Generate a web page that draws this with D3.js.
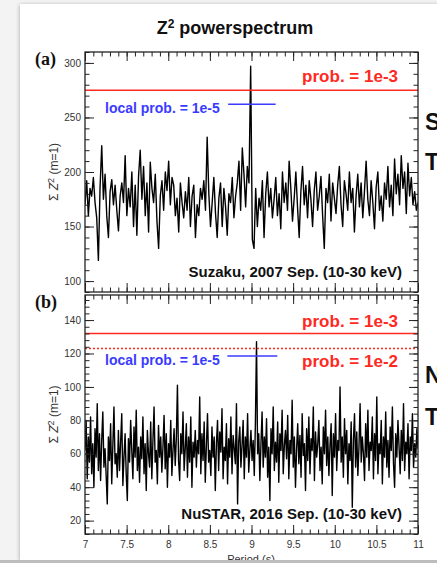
<!DOCTYPE html>
<html>
<head>
<meta charset="utf-8">
<script src="https://cdn.jsdelivr.net/npm/d3@7"></script>
<style>
  body { margin: 0; background: #f3f3f3; }
  svg { display: block; font-family: "Liberation Sans", Arial, sans-serif; }
</style>
</head>
<body>
<svg id="chart"></svg>
<script>
var svgWidth = 437;
var svgHeight = 563;

// Suzaku 2007 Z^2 values (panel a), evenly spaced in period from 7 to 11 s
var suzakuZ2 = [
  170, 192, 160, 185, 178, 195, 172, 158, 119, 186,
  224, 175, 198, 160, 140, 182, 193, 170, 188, 165,
  146, 178, 190, 172, 215, 160, 185, 168, 200, 150,
  188, 142, 196, 220, 175, 205, 160, 190, 145, 209,
  185, 172, 198, 155, 130, 178, 192, 165, 200, 183,
  210, 170, 195, 188, 160, 176, 145, 190, 172, 158,
  182, 165, 195, 150, 178, 188, 140, 170, 160, 185,
  175, 192, 165, 232, 180, 150, 172, 195, 162, 140,
  176, 190, 150, 185, 168, 142, 180, 172, 195, 158,
  178, 190, 210, 165, 222, 198, 168, 205, 190, 297,
  138, 130, 185, 150, 176, 165, 192, 140, 180, 200,
  168, 185, 158, 175, 195, 160, 180, 148, 200, 172,
  190, 165, 210, 185, 155, 176, 200, 168, 140, 182,
  205, 170, 188, 158, 192, 175, 150, 183, 200, 165,
  178, 196, 160, 130, 185, 172, 198, 155, 190, 176,
  162, 188, 205, 170, 150, 192, 180, 165, 200, 172,
  185, 145, 178, 198, 168, 190, 158, 182, 210, 175,
  160, 192, 172, 148, 186, 200, 165, 178, 155, 190,
  175, 205, 168, 188, 160, 212, 180, 198, 170, 215,
  185, 200, 162, 208, 178, 195, 170, 182, 165, 172
];

// NuSTAR 2016 Z^2 values (panel b), evenly spaced in period from 7 to 11 s
var nustarZ2 = [
  62, 80, 45, 70, 55, 82, 48, 66, 40, 75,
  58, 90, 50, 72, 44, 68, 85, 52, 63, 47,
  30, 70, 56, 78, 42, 65, 88, 54, 60, 46,
  74, 50, 67, 84, 41, 58, 72, 48, 32, 69,
  55, 80, 62, 45, 76, 58, 86, 50, 64, 43,
  70, 57, 82, 48, 66, 38, 74, 60, 52, 79,
  45, 68, 88, 55, 62, 42, 77, 58, 70, 49,
  64, 83, 51, 72, 40, 66, 58, 80, 47, 62,
  75, 53, 69, 101, 56, 44, 72, 60, 85, 50,
  63, 78, 46, 70, 55, 82, 40, 67, 58, 74,
  52, 68, 60, 94, 48, 72, 56, 79, 43, 65,
  84, 55, 62, 47, 76, 58, 70, 38, 66, 80,
  50, 73, 61, 87, 45, 64, 56, 78, 42, 69,
  58, 82, 48, 71, 63, 54, 90, 30, 67, 76,
  52, 65, 80, 45, 70, 58, 84, 49, 62, 74,
  56, 68, 47, 78, 127, 60, 72, 44, 66, 85,
  52, 70, 58, 81, 46, 64, 32, 75, 60, 88,
  50, 67, 55, 79, 43, 72, 62, 86, 48, 65,
  74, 57, 83, 45, 68, 60, 92, 52, 70, 40,
  63, 78, 54, 71, 46, 84, 59, 66, 38, 75,
  56, 82, 48, 69, 62, 88, 44, 73, 58, 66,
  80, 50, 64, 42, 76, 60, 86, 53, 70, 47,
  65, 78, 35, 72, 58, 84, 50, 68, 62, 100,
  55, 70, 46, 81, 60, 74, 42, 66, 56, 79,
  28, 68, 84, 52, 73, 47, 64, 90, 55, 70,
  60, 44, 78, 58, 86, 50, 67, 62, 82, 45,
  72, 56, 94, 48, 66, 60, 80, 42, 70, 58,
  85, 52, 68, 46, 76, 62, 88, 54, 40, 72,
  58, 80, 64, 48, 74, 56, 90, 50, 67, 60,
  78, 45, 70, 62, 84, 52, 66, 58, 75, 63
];

var periodStart = 7;
var periodEnd = 11;
var xTicks = [7, 7.5, 8, 8.5, 9, 9.5, 10, 10.5, 11];

// probability levels
var probA = [{ label: "prob. = 1e-3", value: 275, dash: null }];
var probB = [
  { label: "prob. = 1e-3", value: 132, dash: null },
  { label: "prob. = 1e-2", value: 123, dash: "2,2" }
];
var localA = { label: "local prob. = 1e-5", value: 262, from: 8.72, to: 9.29 };
var localB = { label: "local prob. = 1e-5", value: 118.5, from: 8.71, to: 9.31 };

var svg = d3.select("#chart")
  .attr("width", svgWidth)
  .attr("height", svgHeight);

var defs = svg.append("defs");
var shadow = defs.append("filter").attr("id", "shadow")
  .attr("x", "-5%").attr("y", "-5%").attr("width", "110%").attr("height", "110%");
shadow.append("feDropShadow")
  .attr("dx", 0).attr("dy", 1).attr("stdDeviation", 2)
  .attr("flood-color", "#000").attr("flood-opacity", 0.35);

svg.append("rect")
  .attr("width", svgWidth).attr("height", svgHeight)
  .attr("fill", "#f3f3f3");

// slide card
svg.append("rect")
  .attr("x", 20).attr("y", 4)
  .attr("width", 440).attr("height", 556)
  .attr("fill", "#fff")
  .attr("filter", "url(#shadow)");

var x = d3.scaleLinear().domain([periodStart, periodEnd]).range([85, 418]);

function periodsFor(values) {
  var n = values.length;
  return values.map((v, i) => ({
    period: periodStart + i * (periodEnd - periodStart) / (n - 1),
    z2: v
  }));
}

function drawPanel(cfg) {
  var y = d3.scaleLinear().domain(cfg.yDomain).range([cfg.bottom, cfg.top]);
  var g = svg.append("g");

  var clipId = "clip" + cfg.name;
  defs.append("clipPath").attr("id", clipId)
    .append("rect")
    .attr("x", x.range()[0]).attr("y", cfg.top)
    .attr("width", x.range()[1] - x.range()[0])
    .attr("height", cfg.bottom - cfg.top);

  // data line
  var line = d3.line()
    .x(d => x(d.period))
    .y(d => y(d.z2));

  g.append("path")
    .datum(periodsFor(cfg.values))
    .attr("clip-path", `url(#${clipId})`)
    .attr("fill", "none")
    .attr("stroke", "#000")
    .attr("stroke-width", 1.4)
    .attr("stroke-linejoin", "round")
    .attr("d", line);

  // probability lines
  cfg.probs.forEach(function (p) {
    g.append("line")
      .attr("x1", x(periodStart)).attr("x2", x(periodEnd))
      .attr("y1", y(p.value)).attr("y2", y(p.value))
      .attr("stroke", "#ff2a1f")
      .attr("stroke-width", 1.5)
      .attr("stroke-dasharray", p.dash);
  });

  g.append("line")
    .attr("x1", x(cfg.local.from)).attr("x2", x(cfg.local.to))
    .attr("y1", y(cfg.local.value)).attr("y2", y(cfg.local.value))
    .attr("stroke", "#3b3bff")
    .attr("stroke-width", 1.5);

  // minor ticks
  var mk = (axis, ticks, size) => axis.tickValues(ticks).tickSizeInner(size).tickSizeOuter(0).tickFormat("");
  var xMinor = d3.range(70, 111).map(d => d / 10);
  var yMinor = d3.range(cfg.yDomain[0], cfg.yDomain[1] + 0.01, 1).filter(d => d % cfg.minorStep === 0);

  g.append("g").attr("transform", `translate(0,${cfg.top})`).call(mk(d3.axisTop(x), xMinor, -4.5));
  g.append("g").attr("transform", `translate(0,${cfg.bottom})`).call(mk(d3.axisBottom(x), xMinor, -4.5));
  g.append("g").attr("transform", `translate(${x.range()[0]},0)`).call(mk(d3.axisLeft(y), yMinor, -4.5));
  g.append("g").attr("transform", `translate(${x.range()[1]},0)`).call(mk(d3.axisRight(y), yMinor, -4.5));

  // major ticks
  g.append("g").attr("transform", `translate(0,${cfg.top})`).call(mk(d3.axisTop(x), xTicks, -9));
  g.append("g").attr("transform", `translate(${x.range()[1]},0)`).call(mk(d3.axisRight(y), cfg.yTicks, -9));

  var bottomAxis = d3.axisBottom(x).tickValues(xTicks).tickSizeInner(-9).tickSizeOuter(0)
    .tickPadding(7).tickFormat(d3.format("~"));
  if (!cfg.xLabels) bottomAxis.tickFormat("");
  g.append("g").attr("class", "tick-labels")
    .attr("transform", `translate(0,${cfg.bottom})`)
    .call(bottomAxis);

  g.append("g").attr("class", "tick-labels")
    .attr("transform", `translate(${x.range()[0]},0)`)
    .call(d3.axisLeft(y).tickValues(cfg.yTicks).tickSizeInner(-9).tickSizeOuter(0).tickPadding(4));

  g.selectAll(".domain").remove();
  g.selectAll(".tick line").attr("stroke", "#222").attr("stroke-width", 1);
  g.selectAll(".tick-labels text")
    .attr("fill", "#333")
    .style("font-size", "10px")
    .style("font-family", "Liberation Sans, Arial, sans-serif");

  // frame
  g.append("rect")
    .attr("x", x.range()[0]).attr("y", cfg.top)
    .attr("width", x.range()[1] - x.range()[0])
    .attr("height", cfg.bottom - cfg.top)
    .attr("fill", "none")
    .attr("stroke", "#222")
    .attr("stroke-width", 1.3);

  // annotations
  cfg.probs.forEach(function (p, i) {
    g.append("text")
      .attr("x", 398)
      .attr("y", cfg.probLabelY[i])
      .attr("text-anchor", "end")
      .attr("fill", "#ff2a1f")
      .style("font-size", "17px")
      .style("font-weight", "bold")
      .text(p.label);
  });

  g.append("text")
    .attr("x", 105)
    .attr("y", y(cfg.local.value) + 9)
    .attr("fill", "#3b3bff")
    .style("font-size", "14px")
    .style("font-weight", "bold")
    .text(cfg.local.label);

  g.append("text")
    .attr("x", 402)
    .attr("y", cfg.bottom - 15)
    .attr("text-anchor", "end")
    .attr("fill", "#111")
    .style("font-size", "15px")
    .style("font-weight", "bold")
    .text(cfg.mission);

  g.append("text")
    .attr("x", 35)
    .attr("y", cfg.top + 13)
    .attr("fill", "#111")
    .style("font-family", "Liberation Serif, Times New Roman, serif")
    .style("font-size", "18px")
    .style("font-weight", "bold")
    .text(cfg.tag);

  var yl = g.append("text")
    .attr("transform", `translate(58,${(cfg.top + cfg.bottom) / 2}) rotate(-90)`)
    .attr("text-anchor", "middle")
    .attr("fill", "#333")
    .style("font-size", "12px");
  yl.append("tspan").text("\u03a3 ");
  yl.append("tspan").style("font-style", "italic").text("Z");
  yl.append("tspan").attr("dy", -4).style("font-size", "9px").text("2");
  yl.append("tspan").attr("dy", 4).text(" (m=1)");
}

drawPanel({
  name: "a", tag: "(a)", top: 52, bottom: 292,
  yDomain: [90, 310], yTicks: [100, 150, 200, 250, 300], minorStep: 10,
  values: suzakuZ2, probs: probA, probLabelY: [82], local: localA,
  mission: "Suzaku, 2007 Sep. (10-30 keV)", xLabels: false
});

drawPanel({
  name: "b", tag: "(b)", top: 295, bottom: 534,
  yDomain: [12, 155], yTicks: [20, 40, 60, 80, 100, 120, 140], minorStep: 4,
  values: nustarZ2, probs: probB, probLabelY: [327, 367], local: localB,
  mission: "NuSTAR, 2016 Sep. (10-30 keV)", xLabels: true
});

// title
var title = svg.append("text")
  .attr("x", 235).attr("y", 34)
  .attr("text-anchor", "middle")
  .attr("fill", "#111")
  .style("font-size", "18px")
  .style("font-weight", "bold");
title.append("tspan").text("Z");
title.append("tspan").attr("dy", -6).style("font-size", "12px").text("2");
title.append("tspan").attr("dy", 6).text(" powerspectrum");

svg.append("text")
  .attr("x", 251).attr("y", 563)
  .attr("text-anchor", "middle")
  .attr("fill", "#333")
  .style("font-size", "11px")
  .text("Period (s)");

// slide text cut off at the right edge
[["S", 130], ["T", 170], ["N", 383], ["T", 425]].forEach(function (d) {
  svg.append("text")
    .attr("x", 425).attr("y", d[1])
    .attr("fill", "#111")
    .style("font-size", "23px")
    .style("font-weight", "bold")
    .text(d[0]);
});

// strip below the slide card
svg.append("rect")
  .attr("x", 0).attr("y", 560)
  .attr("width", svgWidth).attr("height", 3)
  .attr("fill", "#bdbdbd");
</script>
</body>
</html>
